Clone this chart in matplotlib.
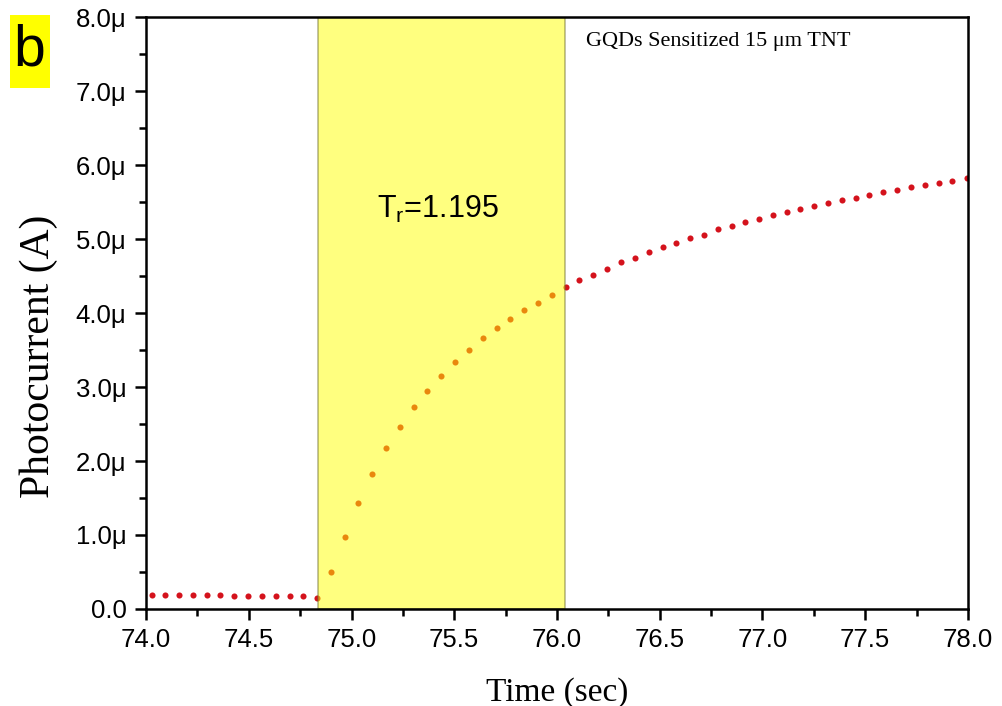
import matplotlib
matplotlib.use("Agg")
import matplotlib.pyplot as plt
from matplotlib.ticker import MultipleLocator, FuncFormatter
from matplotlib.patches import Rectangle

# ---- data (time in s, photocurrent in µA) ----
time_s = [74.028, 74.092, 74.161, 74.227, 74.295, 74.360, 74.428, 74.495, 74.563,
          74.631, 74.699, 74.764, 74.831,
          74.899, 74.967, 75.033, 75.101, 75.169, 75.235, 75.303, 75.369, 75.437,
          75.504, 75.572, 75.638, 75.707, 75.773, 75.839, 75.908, 75.976,
          76.042, 76.109, 76.177, 76.245, 76.310, 76.378, 76.446, 76.514, 76.581,
          76.649, 76.714, 76.782, 76.850, 76.916, 76.983, 77.051, 77.118, 77.184,
          77.252, 77.320, 77.387, 77.453, 77.520, 77.588, 77.656, 77.721, 77.789,
          77.857, 77.925, 77.994]
current_uA = [0.19, 0.19, 0.19, 0.185, 0.185, 0.185, 0.18, 0.18, 0.18,
              0.18, 0.175, 0.175, 0.145,
              0.50, 0.97, 1.43, 1.82, 2.17, 2.46, 2.73, 2.95, 3.15,
              3.34, 3.50, 3.66, 3.80, 3.92, 4.04, 4.14, 4.25,
              4.35, 4.44, 4.52, 4.60, 4.69, 4.75, 4.82, 4.89, 4.94,
              5.01, 5.06, 5.13, 5.17, 5.23, 5.27, 5.32, 5.36, 5.40,
              5.44, 5.48, 5.53, 5.56, 5.60, 5.64, 5.66, 5.70, 5.73,
              5.76, 5.79, 5.82]
rise_start, rise_end = 74.837, 76.039
rise_label = r"T$_\mathregular{r}$=1.195"
sample_label = "GQDs Sensitized 15 \u03bcm TNT"
panel_label = "b"

W, H = 1003, 706
fig = plt.figure(figsize=(W / 100, H / 100), dpi=100)
ax = fig.add_axes([0.1456, 0.1374, 0.965 - 0.1456, 0.9759 - 0.1374])

ax.plot(time_s, current_uA, linestyle="none", marker="o", markersize=4.4,
        color="#d4121c", markeredgewidth=0, zorder=2)
ax.axvspan(rise_start, rise_end, facecolor="#ffff00", alpha=0.5,
           edgecolor="#6f6f30", linewidth=1.2, zorder=3)

ax.set_xlim(74.0, 78.0)
ax.set_ylim(0.0, 8.0)
ax.xaxis.set_major_locator(MultipleLocator(0.5))
ax.xaxis.set_minor_locator(MultipleLocator(0.25))
ax.yaxis.set_major_locator(MultipleLocator(1.0))
ax.yaxis.set_minor_locator(MultipleLocator(0.5))
ax.xaxis.set_major_formatter(FuncFormatter(lambda v, p: f"{v:.1f}"))
ax.yaxis.set_major_formatter(FuncFormatter(
    lambda v, p: "0.0" if abs(v) < 1e-9 else f"{v:.1f}\u03bc"))

for s in ax.spines.values():
    s.set_linewidth(1.8)
    s.set_zorder(5)
ax.tick_params(which="both", direction="out", top=False, right=False, width=1.8)
ax.tick_params(which="major", length=8, labelsize=18.5, pad=6)
ax.tick_params(which="minor", length=5)
for lab in ax.get_xticklabels() + ax.get_yticklabels():
    lab.set_family("Liberation Sans")

ax.set_xlabel("Time (sec)", family="Liberation Serif", fontsize=24)
ax.set_ylabel("Photocurrent (A)", family="Liberation Serif", fontsize=30)
ax.xaxis.set_label_coords(0.5, -0.115)
ax.yaxis.set_label_coords(-0.107, 0.426)

ax.text(75.42, 5.4, rise_label, family="Liberation Sans", fontsize=22,
        ha="center", va="center", zorder=6)
ax.text(0.535, 0.958, sample_label, transform=ax.transAxes,
        family="Liberation Serif", fontsize=16, ha="left", va="center", zorder=6)

fig.patches.append(Rectangle((10 / W, 1 - 88 / H), 40 / W, 73 / H,
                             transform=fig.transFigure, facecolor="#ffff00",
                             edgecolor="none", zorder=0))
fig.text(29 / W, 1 - 65 / H, panel_label, family="Liberation Sans",
         fontsize=41, ha="center", va="baseline")

fig.savefig("out.png", dpi=100)
